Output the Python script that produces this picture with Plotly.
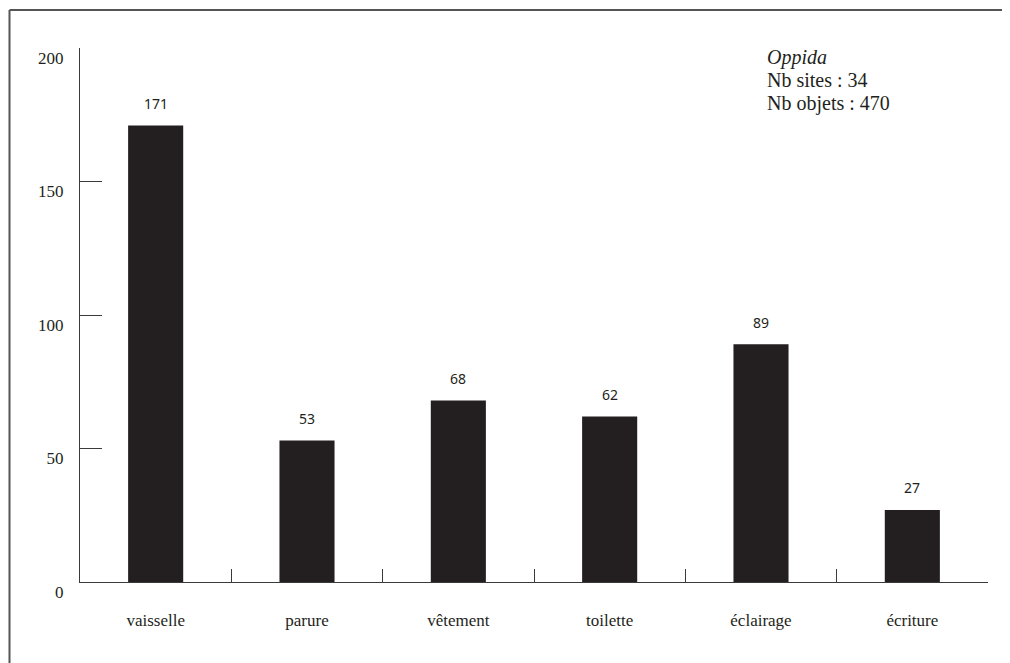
import plotly.graph_objects as go

categories = ["vaisselle", "parure", "vêtement", "toilette", "éclairage", "écriture"]
values = [171, 53, 68, 62, 89, 27]
y_ticks = [0, 50, 100, 150, 200]
info_lines = ["<i>Oppida</i>", "Nb sites : 34", "Nb objets : 470"]

BAR = "#231f20"
AX = "#3a3a3a"
SERIF = "Liberation Serif, Times New Roman, serif"
SANS = "Noto Sans, Open Sans, sans-serif"

# figure is offset by the page's 8px body margin; size/margins compensate
W, H = 1002, 655
ML, MR, MT, MB = 72, 22, 40, 81
PW, PH = W - ML - MR, H - MT - MB

def px(xf):  # figure pixel -> paper x
    return (xf - ML) / PW

def py(yf):  # figure pixel -> paper y
    return (H - MB - yf) / PH

fig = go.Figure()
fig.add_trace(go.Bar(x=categories, y=values, marker=dict(color=BAR, line=dict(width=0)),
                     hoverinfo="x+y"))

for c, v in zip(categories, values):
    fig.add_annotation(x=c, y=v, text=str(v), showarrow=False, xref="x", yref="y",
                       yanchor="middle", yshift=22,
                       font=dict(family=SANS, size=14, color=BAR))

info_y = [49, 72, 95]
for t, yy in zip(info_lines, info_y):
    fig.add_annotation(x=px(757), y=py(yy), xref="paper", yref="paper", text=t,
                       showarrow=False, xanchor="left", yanchor="middle",
                       font=dict(family=SERIF, size=20, color="#231f20"))

# partial frame (top and left edges)
fig.add_shape(type="line", xref="paper", yref="paper", x0=px(1.5), x1=px(1010),
              y0=py(2), y1=py(2), line=dict(color="#555555", width=2))
fig.add_shape(type="line", xref="paper", yref="paper", x0=px(1.5), x1=px(1.5),
              y0=py(2), y1=py(670), line=dict(color="#555555", width=2))

fig.update_layout(
    width=W, height=H,
    margin=dict(l=ML, r=MR, t=MT, b=MB),
    paper_bgcolor="white", plot_bgcolor="white",
    bargap=0.636, showlegend=False,
    xaxis=dict(type="category", range=[-0.5, 5.5], showline=True, linecolor=AX, linewidth=1.3,
               ticks="inside", tickson="boundaries", ticklen=13, tickcolor=AX, tickwidth=1.3,
               showgrid=False, zeroline=False, ticklabelstandoff=22,
               tickfont=dict(family=SERIF, size=17, color="#231f20")),
    yaxis=dict(range=[0, 200], showline=True, linecolor=AX, linewidth=1.3,
               tickvals=y_ticks, ticks="inside", ticklen=22, tickcolor=AX, tickwidth=1.3,
               showgrid=False, zeroline=False, ticklabelstandoff=12, ticklabelshift=10,
               tickfont=dict(family=SERIF, size=17, color="#231f20")),
)

fig.write_html("out.html")
